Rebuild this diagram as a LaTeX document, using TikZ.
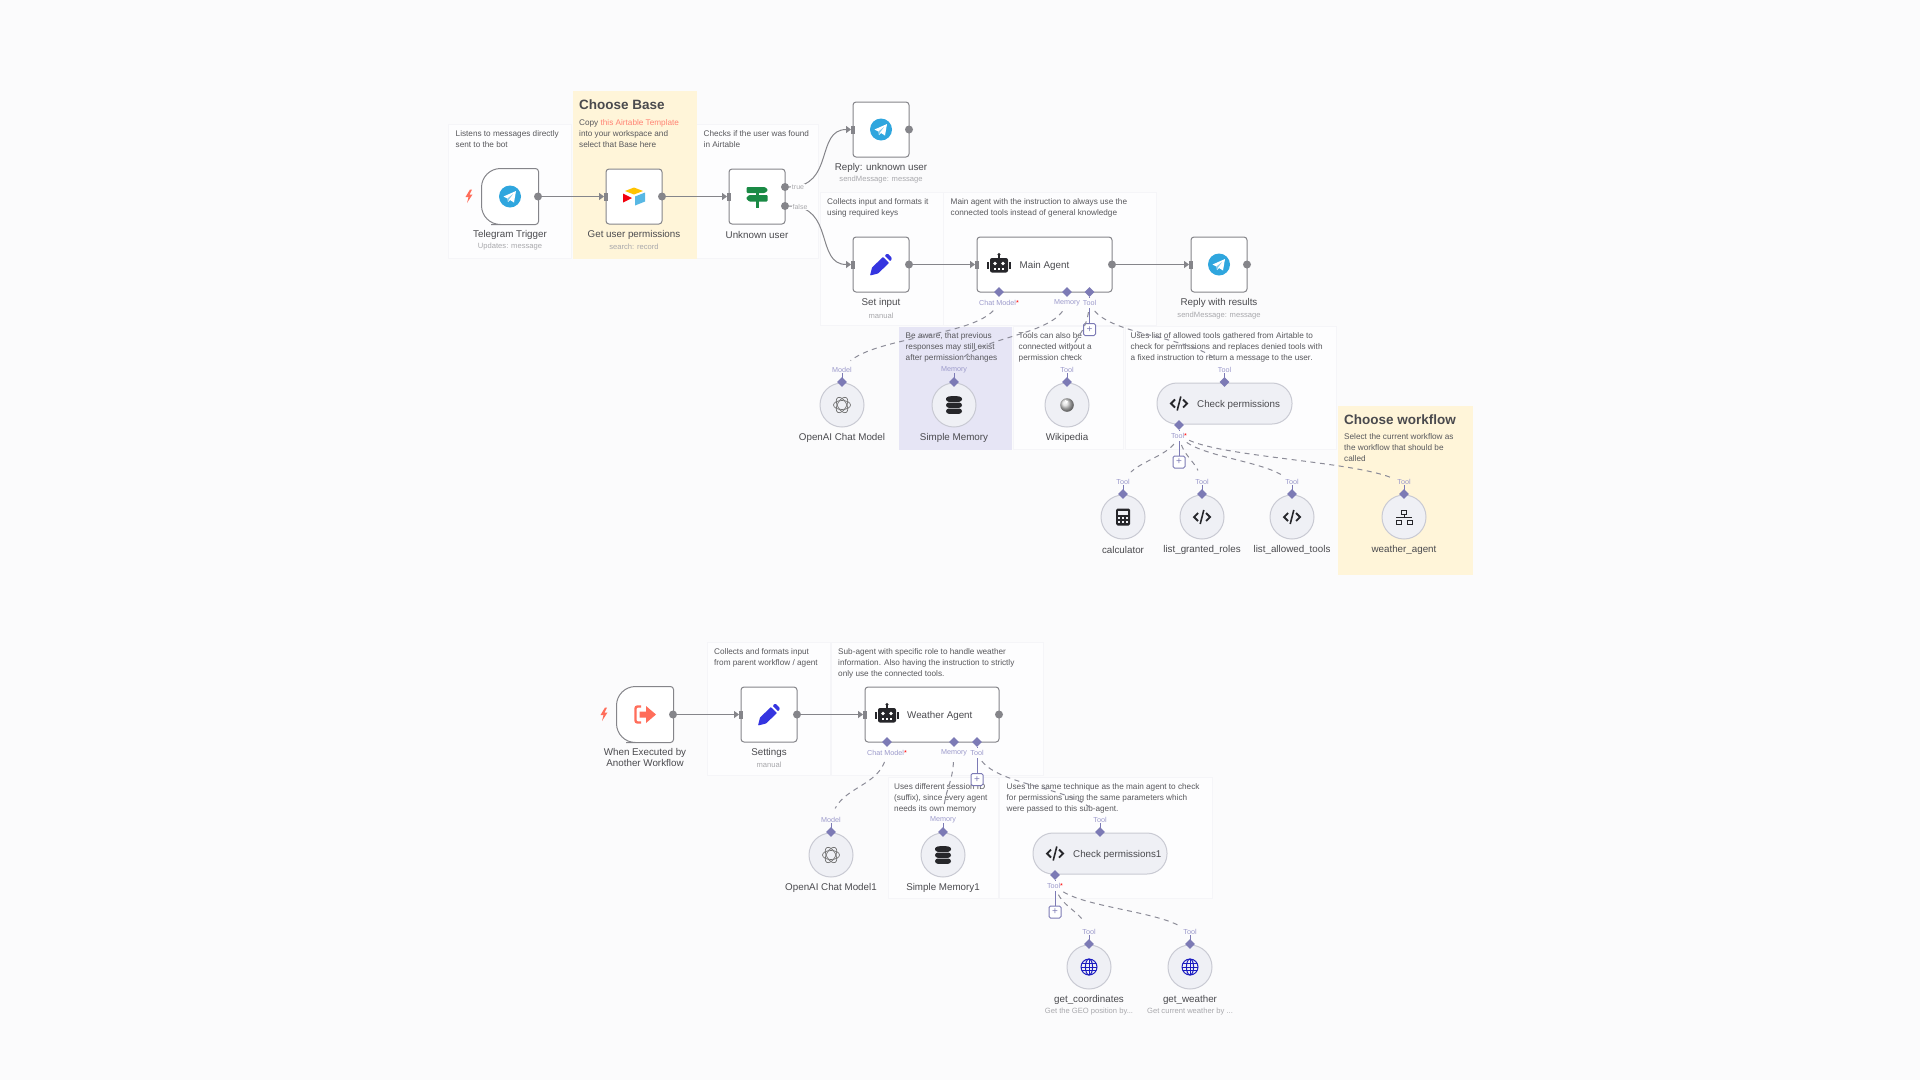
\documentclass[tikz,border=0pt]{standalone}
\usepackage{fontspec}
\setmainfont{Liberation Sans}
\usetikzlibrary{arrows.meta,shapes.geometric,calc,decorations.pathmorphing}

\definecolor{canvasbg}{HTML}{FBFBFC}
\definecolor{stickybg}{HTML}{FDFDFE}
\definecolor{stickyline}{HTML}{F5F5F8}
\definecolor{yellowbg}{HTML}{FFF5D9}
\definecolor{purplebg}{HTML}{E6E5F5}
\definecolor{boxline}{HTML}{85858A}
\definecolor{portgray}{HTML}{85858A}
\definecolor{circbg}{HTML}{EFF0F5}
\definecolor{circline}{HTML}{C9CAD3}
\definecolor{textdark}{HTML}{4A4A4E}
\definecolor{notetext}{HTML}{58585C}
\definecolor{textgray}{HTML}{A8A8AC}
\definecolor{purpledia}{HTML}{7C7AB5}
\definecolor{purpletxt}{HTML}{9C9ACB}
\definecolor{dashgray}{HTML}{8C8C98}
\definecolor{salmon}{HTML}{FF6D5A}
\definecolor{teleblue}{HTML}{2FA6DE}
\definecolor{signgreen}{HTML}{1A8A45}
\definecolor{pencilblue}{HTML}{3535E0}
\definecolor{globeblue}{HTML}{1C1CC0}
\definecolor{icondark}{HTML}{26262A}

\tikzset{
  sticky/.style={draw=stickyline,fill=stickybg,line width=1pt,anchor=north west,inner sep=0pt},
  stickytext/.style={anchor=north west,inner sep=0pt,align=left,text=notetext,font=\fontsize{8.2}{11}\selectfont},
  stickytitle/.style={anchor=west,inner sep=0pt,text=textdark,font=\fontsize{13.5}{15}\selectfont\bfseries},
  nodebox/.style={draw=boxline,fill=white,line width=1pt,rounded corners=3pt,minimum width=56pt,minimum height=55pt,inner sep=0pt},
  pillbox/.style={draw=circline,fill=circbg,line width=1pt,rounded corners=20pt,minimum height=41pt,minimum width=135pt,inner sep=0pt},
  subcirc/.style={circle,draw=circline,fill=circbg,line width=1pt,minimum size=44pt,inner sep=0pt},
  nodename/.style={inner sep=0pt,align=center,text=textdark,font=\fontsize{9.8}{11}\selectfont},
  nodesub/.style={inner sep=0pt,text=textgray,font=\fontsize{7.6}{9}\selectfont},
  boxtext/.style={anchor=west,inner sep=0pt,text=textdark,font=\fontsize{9.8}{12}\selectfont},
  outport/.style={circle,fill=portgray,minimum size=8pt,inner sep=0pt},
  inport/.style={fill=portgray,minimum width=3.5pt,minimum height=8pt,inner sep=0pt},
  dia/.style={diamond,fill=purpledia,minimum width=10pt,minimum height=10pt,inner sep=0pt},
  portlabel/.style={inner sep=0pt,text=purpletxt,font=\fontsize{7.2}{8}\selectfont},
  outlabel/.style={inner sep=1pt,fill=stickybg,text=textgray,font=\fontsize{7}{8}\selectfont},
  plusbox/.style={draw=purpledia,fill=white,line width=1pt,rounded corners=1.5pt,minimum size=12pt,inner sep=0pt,text=purpledia,font=\fontsize{10}{10}\selectfont},
  flowline/.style={draw=portgray,line width=1pt,-{Triangle[length=5pt,width=7pt]}},
  subline/.style={draw=dashgray,line width=1pt,dash pattern=on 5pt off 4.5pt,decorate,
    decoration={curveto,pre=moveto,pre length=15pt,post=moveto,post length=19pt}},
  stemline/.style={draw=purpledia,line width=1pt},
  pics/teleicon/.style={code={
    \fill[teleblue] (0,0) circle (11pt);
    \fill[white] (-6.5,0) -- (6,-5.5) -- (4,6) -- (0,3.5) -- (-2,5.5) -- (-2.5,2) -- cycle;
    \fill[teleblue!60!white] (-2.5,2) -- (3,-2.5) -- (-1,3) -- (-2,5.5) -- cycle;
  }},
  pics/airicon/.style={code={
    \fill[orange!30!yellow!90!red] (-9,-5.5) -- (0,-9) -- (9,-5.5) -- (0,-2) -- cycle;
    \fill[teleblue!80!white] (1,0) -- (11,-4) -- (11,5) -- (1,9) -- cycle;
    \fill[red!80!purple] (-11,-3) -- (-2,1.5) -- (-11,6) -- cycle;
  }},
  pics/signicon/.style={code={
    \fill[signgreen] (-1.5,-10) rectangle (1.5,11);
    \fill[signgreen,rounded corners=1pt] (-10.5,-9.5) -- (8,-9.5) -- (11,-6.5) -- (8,-3.5) -- (-10.5,-3.5) -- cycle;
    \fill[signgreen,rounded corners=1pt] (-8,-1.5) -- (10.5,-1.5) -- (10.5,5) -- (-8,5) -- (-11,1.8) -- cycle;
  }},
  pics/penicon/.style={code={
    \fill[pencilblue,rounded corners=0.7pt] (-11,11) -- (-9,3) -- (2,-7.5) -- (8,-1.5) -- (-3,9) -- cycle;
    \fill[pencilblue,rounded corners=1pt] (3.5,-9) -- (6.5,-11) -- (11,-6.5) -- (9.5,-3) -- cycle;
  }},
  pics/roboticon/.style={code={
    \fill[icondark,rounded corners=2pt] (-9,-6.5) rectangle (9,8);
    \fill[icondark] (-1,-10) rectangle (1,-6);
    \fill[icondark] (0,-10) circle (1.7pt);
    \fill[icondark] (-12,-2.5) rectangle (-10,4.5);
    \fill[icondark] (10,-2.5) rectangle (12,4.5);
    \fill[white] (-4,-1) circle (1.8pt);
    \fill[white] (4,-1) circle (1.8pt);
    \foreach \mx in {-5,-1,3}{\fill[white] (\mx,3.5) rectangle ++(2.2,1.5);}
  }},
  pics/knoticon/.style={code={
    \foreach \ra in {0,60,120}{\draw[gray!90!black,line width=0.7pt,rotate=\ra] (0,0) ellipse (8.5pt and 4.5pt);}
  }},
  pics/dbicon/.style={code={
    \foreach \dy in {-8.5,-2.5,3.5}{\fill[icondark,rounded corners=2.8pt] (-8,\dy) rectangle (8,\dy+5.3);}
    \fill[icondark] (0,-6) ellipse (8pt and 3pt);
  }},
  pics/wikiicon/.style={code={
    \shade[ball color=gray!30!white] (0,0) circle (6.8pt);
    \fill[white] (-2,-5) -- (1,-3.5) -- (-1,-1) -- cycle;
  }},
  pics/codeicon/.style={code={
    \draw[icondark,line width=1.8pt] (-4,-4) -- (-8,0) -- (-4,4);
    \draw[icondark,line width=1.8pt] (4,-4) -- (8,0) -- (4,4);
    \draw[icondark,line width=1.6pt] (1.8,-7) -- (-1.8,7);
  }},
  pics/calcicon/.style={code={
    \fill[icondark,rounded corners=1.5pt] (-7,-8.5) rectangle (7,8.5);
    \fill[circbg] (-5,-6.5) rectangle (5,-2.5);
    \foreach \cx in {-5,-1,3}{\foreach \cy in {-0.5,3.5}{\fill[circbg] (\cx,\cy) rectangle ++(2,2);}}
  }},
  pics/neticon/.style={code={
    \draw[icondark,line width=1pt] (-2.5,-7) rectangle (2.5,-2.5);
    \draw[icondark,line width=1pt] (-8,3) rectangle (-3,7);
    \draw[icondark,line width=1pt] (3,3) rectangle (8,7);
    \draw[icondark,line width=1pt] (-8,0.8) -- (8,0.8);
    \draw[icondark,line width=1pt] (0,-2.5) -- (0,0.8);
  }},
  pics/globeicon/.style={code={
    \draw[globeblue,line width=1pt] (0,0) circle (8pt);
    \draw[globeblue,line width=1pt] (0,0) ellipse (3.6pt and 8pt);
    \draw[globeblue,line width=1pt] (-8,0) -- (8,0);
    \draw[globeblue,line width=1pt] (-7,-3.8) -- (7,-3.8);
    \draw[globeblue,line width=1pt] (-7,3.8) -- (7,3.8);
    \draw[globeblue,line width=1pt] (0,-8) -- (0,8);
  }},
  pics/exiticon/.style={code={
    \draw[salmon,line width=2.4pt,rounded corners=2pt] (-4,-8) -- (-9.5,-8) -- (-9.5,8) -- (-4,8);
    \fill[salmon] (-5.5,-3) -- (1,-3) -- (1,-8.5) -- (11,0) -- (1,8.5) -- (1,3) -- (-5.5,3) -- cycle;
  }},
  pics/bolticon/.style={code={
    \fill[salmon] (1,-6.5) -- (-3.5,1) -- (-0.5,1) -- (-2,7) -- (3.5,-1.5) -- (0.5,-1.5) -- (3,-6.5) -- cycle;
  }},
}

\begin{document}
\begin{tikzpicture}[x=1pt,y=-1pt]

\useasboundingbox (0,0) rectangle (1920,1080);
\fill[canvasbg] (0,0) rectangle (1920,1080);

%notes
\foreach \nm/\x/\y/\w/\h/\ox/\txt in {
  nlisten/448/124/123/134/7.5/{Listens to messages directly\\sent to the bot},
  nchecks/696/124/122/134/7.5/{Checks if the user was found\\in Airtable},
  ncollect/820/192/123/133/7/{Collects input and formats it\\using required keys},
  nmain/943/192/213/133/7.5/{Main agent with the instruction to always use the\\connected tools instead of general knowledge},
  ntools/1013/326/110/123/5.5/{Tools can also be\\connected without a\\permission check},
  nlist/1125/326/211/123/5.5/{Uses list of allowed tools gathered from Airtable to\\check for permissions and replaces denied tools with\\a fixed instruction to return a message to the user.},
  nparent/707/642/123/133/7/{Collects and formats input\\from parent workflow / agent},
  nsub/831/642/212/133/7/{Sub-agent with specific role to handle weather\\information. Also having the instruction to strictly\\only use the connected tools.},
  nsession/888/777/110/121/6/{Uses different session ID\\(suffix), since every agent\\needs its own memory},
  nsame/999/777/213/121/7.5/{Uses the same technique as the main agent to check\\for permissions using the same parameters which\\were passed to this sub-agent.}}{
  \node[sticky,minimum width=\w pt,minimum height=\h pt] (\nm) at (\x,\y) {};
  \node[stickytext] at ($(\nm.north west)+(\ox,6)$) {\txt};
}
\node[sticky,draw=none,fill=purplebg,minimum width=113pt,minimum height=123pt] (naware) at (898,326) {};
\node[stickytext] at (905.5,332) {Be aware, that previous\\responses may still exist\\after permission changes};
\node[sticky,draw=none,fill=yellowbg,minimum width=124pt,minimum height=168pt] (nbase) at (572,90) {};
\node[stickytitle] at (579,104.5) {Choose Base};
\node[stickytext] at (579,119) {Copy \textcolor{salmon!85!white}{this Airtable Template}\\into your workspace and\\select that Base here};
\node[sticky,draw=none,fill=yellowbg,minimum width=135pt,minimum height=169pt] (nflow) at (1337,405) {};
\node[stickytitle] at (1344,419.5) {Choose workflow};
\node[stickytext] at (1344,433) {Select the current workflow as\\the workflow that should be\\called};

%boxes
\foreach \nm/\x/\y/\ttl in {
  getuser/634/196.5/{Get user permissions},
  unknown/757/196.5/{Unknown user},
  replyone/881/129.5/{Reply: unknown user},
  setinput/881/264.5/{Set input},
  replytwo/1219/264.5/{Reply with results},
  settings/769/714.5/{Settings}}{
  \node[nodebox] (\nm) at (\x,\y) {};
  \node[nodename,anchor=center] (\nm name) at (\x,\y+38.5) {\ttl};
}
\node[nodesub] at (510,247) {Updates: message};
\node[nodesub] at (634,247) {search: record};
\node[nodesub] at (881,179.5) {sendMessage: message};
\node[nodesub] at (881,315.5) {manual};
\node[nodesub] at (1219,315.5) {sendMessage: message};
\node[nodesub] at (769,765) {manual};

\node[nodebox,minimum width=135pt] (mainagent) at (1044.5,264.5) {};
\node[boxtext] at (1019.5,265.5) {Main Agent};
\node[nodebox,minimum width=134pt] (weatheragent) at (932,714.5) {};
\node[boxtext] at (907,715.5) {Weather Agent};

%triggers have a big round back
\node[nodebox,draw=none,fill=none] (trigger) at (510,196.5) {};
\node[nodename] (triggername) at (510,235) {Telegram Trigger};
\draw[draw=boxline,fill=white,line width=1pt] (trigger.east) [rounded corners=3pt] -- (trigger.north east) -- (trigger.north) [rounded corners=19pt] -- (trigger.north west) -- (trigger.south west) -- (trigger.south) [rounded corners=3pt] -- (trigger.south east) -- cycle;
\node[nodebox,draw=none,fill=none] (exectrig) at (645,714.5) {};
\node[nodename] (exectrigname) at (645,757.5) {When Executed by\\Another Workflow};
\draw[draw=boxline,fill=white,line width=1pt] (exectrig.east) [rounded corners=3pt] -- (exectrig.north east) -- (exectrig.north) [rounded corners=19pt] -- (exectrig.north west) -- (exectrig.south west) -- (exectrig.south) [rounded corners=3pt] -- (exectrig.south east) -- cycle;

%tool pills
\node[pillbox] (checkone) at (1224.5,403.5) {};
\node[boxtext] at (1197,404.5) {Check permissions};
\node[pillbox,minimum width=134pt] (checktwo) at (1100,853.5) {};
\node[boxtext] at (1073,854.5) {Check permissions1};

%sub nodes
\foreach \nm/\x/\y/\ttl/\pt in {
  model/842/405/{OpenAI Chat Model}/Model,
  memory/954/405/{Simple Memory}/Memory,
  wiki/1067/405/{Wikipedia}/Tool,
  calc/1123/517/{calculator}/Tool,
  granted/1202/517/{list\_granted\_roles}/Tool,
  allowed/1292/517/{list\_allowed\_tools}/Tool,
  flowtool/1404/517/{weather\_agent}/Tool,
  modelone/831/855/{OpenAI Chat Model1}/Model,
  memoryone/943/855/{Simple Memory1}/Memory,
  coords/1089/967/{get\_coordinates}/Tool,
  weather/1190/967/{get\_weather}/Tool}{
  \node[subcirc] (\nm) at (\x,\y) {};
  \node[nodename] at (\x,\y+32.5) {\ttl};
  \node[dia] (\nm top) at (\x,\y-23) {};
  \draw[stemline] (\x,\y-32) -- (\x,\y-23);
  \node[portlabel] at (\x,\y-35.5) {\pt};
}
\node[dia] (checkonetop) at (1224.5,382) {};
\draw[stemline] (1224.5,373) -- (1224.5,382);
\node[portlabel] at (1224.5,369.5) {Tool};
\node[dia] (checktwotop) at (1100,832) {};
\draw[stemline] (1100,823) -- (1100,832);
\node[portlabel] at (1100,819.5) {Tool};
\node[nodesub] at (1089,1012) {Get the GEO position by...};
\node[nodesub] at (1190,1012) {Get current weather by ...};

%ports
\foreach \nm/\x/\y in {trigger/538/196.5,getuser/662/196.5,unknowntrue/785/187,unknownfalse/785/206,replyone/909/129.5,setinput/909/264.5,mainagent/1112/264.5,replytwo/1247/264.5,exectrig/673/714.5,settings/797/714.5,weatheragent/999/714.5}{
  \node[outport] (\nm out) at (\x,\y) {};
}
\foreach \nm/\x/\y in {getuser/606/196.5,unknown/729/196.5,replyone/853/129.5,setinput/853/264.5,mainagent/977/264.5,replytwo/1191/264.5,settings/741/714.5,weatheragent/865/714.5}{
  \node[inport] (\nm in) at (\x,\y) {};
}

%flow lines
\draw[flowline] (triggerout) -- (getuserin);
\draw[flowline] (getuserout) -- (unknownin);
\draw[flowline] (unknowntrueout) .. controls (835,187) and (815,129.5) .. (replyonein);
\draw[flowline] (unknownfalseout) .. controls (835,206) and (815,264.5) .. (setinputin);
\draw[flowline] (setinputout) -- (mainagentin);
\draw[flowline] (mainagentout) -- (replytwoin);
\draw[flowline] (exectrigout) -- (settingsin);
\draw[flowline] (settingsout) -- (weatheragentin);
\node[outlabel] at (798,187.5) {true};
\node[outlabel] at (800,206.5) {false};

%agent ports
\foreach \nm/\x/\y/\pt in {
  mainchat/999/292/{Chat Model\textcolor{red}{*}},
  mainmem/1067/292/Memory,
  maintool/1089.5/292/Tool,
  weatherchat/887/742/{Chat Model\textcolor{red}{*}},
  weathermem/954/742/Memory,
  weathertool/977/742/Tool,
  checkonetool/1179/425/{Tool\textcolor{red}{*}},
  checktwotool/1055/875/{Tool\textcolor{red}{*}}}{
  \node[dia] (\nm) at (\x,\y) {};
  \node[portlabel] at (\x,\y+10.5) {\pt};
}
\node[plusbox] (plusmain) at (1089.5,329.5) {+};
\node[plusbox] (plusweather) at (977,779.5) {+};
\node[plusbox] (pluscheckone) at (1179,462) {+};
\node[plusbox] (pluschecktwo) at (1055,912) {+};
\draw[stemline] (maintool) -- (1089.5,298) (1089.5,308) -- (plusmain);
\draw[stemline] (weathertool) -- (977,748) (977,758) -- (plusweather);
\draw[stemline] (checkonetool) -- (1179,431) (1179,441) -- (pluscheckone);
\draw[stemline] (checktwotool) -- (1055,881) (1055,891) -- (pluschecktwo);

%dashed links
\draw[subline] (mainchat) .. controls +(0,50) and +(0,-50) .. (modeltop);
\draw[subline] (mainmem) .. controls +(0,50) and +(0,-50) .. (memorytop);
\draw[subline] (maintool) .. controls +(0,50) and +(0,-50) .. (wikitop);
\draw[subline] (maintool) .. controls +(0,50) and +(0,-50) .. (checkonetop);
\draw[subline] (checkonetool) .. controls +(0,35) and +(0,-35) .. (calctop);
\draw[subline] (checkonetool) .. controls +(0,35) and +(0,-35) .. (grantedtop);
\draw[subline] (checkonetool) .. controls +(0,35) and +(0,-35) .. (allowedtop);
\draw[subline] (checkonetool) .. controls +(0,35) and +(0,-35) .. (flowtooltop);
\draw[subline] (weatherchat) .. controls +(0,50) and +(0,-50) .. (modelonetop);
\draw[subline] (weathermem) .. controls +(0,50) and +(0,-50) .. (memoryonetop);
\draw[subline] (weathertool) .. controls +(0,50) and +(0,-50) .. (checktwotop);
\draw[subline] (checktwotool) .. controls +(0,35) and +(0,-35) .. (coordstop);
\draw[subline] (checktwotool) .. controls +(0,35) and +(0,-35) .. (weathertop);

%icons
\pic at (trigger) {teleicon};
\pic at (replyone) {teleicon};
\pic at (replytwo) {teleicon};
\pic at (getuser) {airicon};
\pic at (unknown) {signicon};
\pic at (setinput) {penicon};
\pic at (settings) {penicon};
\pic at (999,264.5) {roboticon};
\pic at (887,714.5) {roboticon};
\pic at (exectrig) {exiticon};
\pic at (469,196) {bolticon};
\pic at (604,714) {bolticon};
\pic at (model) {knoticon};
\pic at (modelone) {knoticon};
\pic at (memory) {dbicon};
\pic at (memoryone) {dbicon};
\pic at (wiki) {wikiicon};
\pic at (1179,403.5) {codeicon};
\pic at (1055,853.5) {codeicon};
\pic at (calc) {calcicon};
\pic at (granted) {codeicon};
\pic at (allowed) {codeicon};
\pic at (flowtool) {neticon};
\pic at (coords) {globeicon};
\pic at (weather) {globeicon};

\end{tikzpicture}
\end{document}
